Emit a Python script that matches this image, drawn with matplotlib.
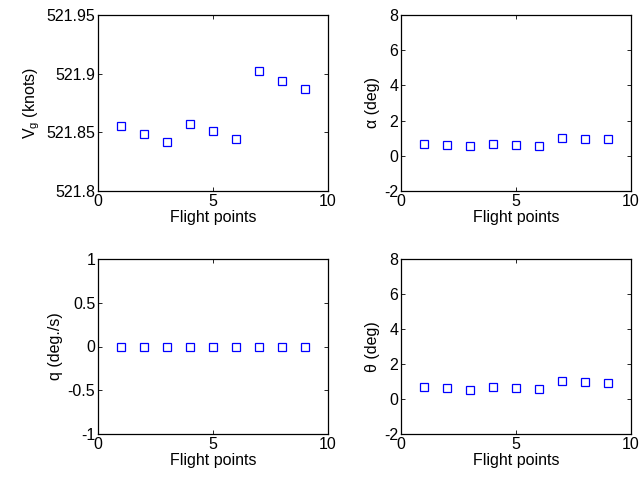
import matplotlib
matplotlib.use('Agg')
import matplotlib.pyplot as plt
from matplotlib.ticker import FormatStrFormatter

plt.rcParams['font.family'] = ['Liberation Sans', 'DejaVu Sans']
plt.rcParams['font.size'] = 11.5
plt.rcParams['axes.unicode_minus'] = True

# flight point data
points = [1, 2, 3, 4, 5, 6, 7, 8, 9]
vg = [521.855, 521.849, 521.842, 521.857, 521.851, 521.844, 521.902, 521.894, 521.887]
alpha = [0.68, 0.63, 0.53, 0.68, 0.63, 0.57, 1.02, 0.97, 0.93]
q = [0, 0, 0, 0, 0, 0, 0, 0, 0]
theta = [0.68, 0.63, 0.53, 0.68, 0.63, 0.55, 1.03, 0.97, 0.91]

fig = plt.figure(figsize=(6.41, 4.83), dpi=100, facecolor='w')

W, H = 641.0, 483.0
def box(x0, y0, x1, y1):
    return [x0 / W, 1 - y1 / H, (x1 - x0) / W, (y1 - y0) / H]

panels = [
    (box(98, 15, 328, 191), vg, '$\\mathregular{V_g}$ (knots)', (521.8, 521.95), [521.8, 521.85, 521.9, 521.95]),
    (box(401, 15, 631, 191), alpha, '\u03b1 (deg)', (-2, 8), [-2, 0, 2, 4, 6, 8]),
    (box(98, 259, 328, 434), q, 'q (deg./s)', (-1, 1), [-1, -0.5, 0, 0.5, 1]),
    (box(401, 259, 631, 434), theta, '\u03b8 (deg)', (-2, 8), [-2, 0, 2, 4, 6, 8]),
]

for pos, vals, label, ylim, yt in panels:
    ax = fig.add_axes(pos)
    ax.plot(points, vals, 's', mfc='none', mec='b', ms=5.8, mew=0.9)
    ax.set_xlim(0, 10)
    ax.set_ylim(*ylim)
    ax.set_xticks([0, 5, 10])
    ax.set_yticks(yt)
    ax.yaxis.set_major_formatter(FormatStrFormatter('%g'))
    ax.set_xlabel('Flight points', labelpad=1)
    ax.set_ylabel(label, labelpad=3)
    ax.tick_params(direction='in', length=3, width=0.6, top=True, right=True, pad=2)
    for s in ax.spines.values():
        s.set_linewidth(0.9)

fig.savefig('out.png', dpi=100)
